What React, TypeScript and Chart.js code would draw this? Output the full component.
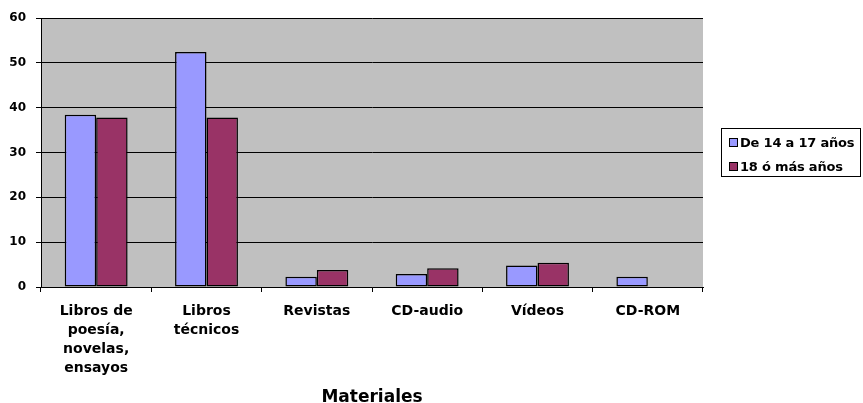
import React, { useEffect, useRef } from "react";
import { Chart, registerables } from "chart.js";

Chart.register(...registerables);

const categories: string[][] = [
  ["Libros de", "poesía,", "novelas,", "ensayos"],
  ["Libros", "técnicos"],
  ["Revistas"],
  ["CD-audio"],
  ["Vídeos"],
  ["CD-ROM"],
];
const seriesNames = ["De 14 a 17 años", "18 ó más años"];
const series14a17 = [38.4, 52.4, 2.3, 2.9, 4.8, 2.3];
const series18mas = [37.8, 37.8, 3.8, 4.2, 5.4, 0];
const seriesColors = ["#9999FF", "#993366"];
const yTicks = [0, 10, 20, 30, 40, 50, 60];
const xTitle = "Materiales";

const FONT = "'DejaVu Sans', 'Liberation Sans', Arial, sans-serif";

const bgPlugin = {
  id: "plotBg",
  beforeDraw(chart: any) {
    const { ctx, chartArea } = chart;
    if (!chartArea) return;
    ctx.save();
    ctx.fillStyle = "#C0C0C0";
    ctx.fillRect(chartArea.left, chartArea.top, chartArea.right - chartArea.left, chartArea.bottom - chartArea.top);
    ctx.restore();
  },
};

export default function App() {
  const ref = useRef<HTMLCanvasElement | null>(null);

  useEffect(() => {
    document.body.style.margin = "0";
    if (!ref.current) return;
    const chart = new Chart(ref.current, {
      type: "bar",
      data: {
        labels: categories,
        datasets: [
          {
            label: seriesNames[0],
            data: series14a17,
            backgroundColor: seriesColors[0],
            borderColor: "#000",
            borderWidth: 1.5,
            borderSkipped: false,
            categoryPercentage: 0.57,
            barPercentage: 1,
          },
          {
            label: seriesNames[1],
            data: series18mas,
            backgroundColor: seriesColors[1],
            borderColor: "#000",
            borderWidth: 1.5,
            borderSkipped: false,
            categoryPercentage: 0.57,
            barPercentage: 1,
          },
        ],
      },
      options: {
        animation: false,
        responsive: false,
        maintainAspectRatio: false,
        layout: { padding: { top: 18, right: 160, bottom: 0, left: 0 } },
        plugins: {
          legend: { display: false },
          tooltip: { enabled: false },
        },
        scales: {
          x: {
            grid: {
              display: true,
              drawOnChartArea: false,
              drawTicks: true,
              tickLength: 5,
              color: "#000",
              offset: true,
            },
            border: { display: true, color: "#000", width: 1 },
            ticks: {
              color: "#000",
              font: { family: FONT, size: 14, weight: "bold", lineHeight: 1.35 },
              padding: 10,
              maxRotation: 0,
              autoSkip: false,
            },
            title: {
              display: true,
              text: xTitle,
              color: "#000",
              font: { family: FONT, size: 17, weight: "bold", lineHeight: 1.2 },
              padding: { top: 0, bottom: -5 },
            },
            afterFit(scale: any) {
              scale.height = 116;
            },
          },
          y: {
            min: 0,
            max: 60,
            afterBuildTicks(scale: any) {
              scale.ticks = yTicks.map((v) => ({ value: v }));
            },
            grid: {
              color: "#000",
              lineWidth: 1,
              drawTicks: true,
              tickLength: 5,
            },
            border: { display: true, color: "#000", width: 1 },
            ticks: {
              color: "#000",
              font: { family: FONT, size: 12, weight: "bold" },
              padding: 10,
            },
            afterFit(scale: any) {
              scale.width = 41;
            },
          },
        },
      },
      plugins: [bgPlugin],
    } as any);
    return () => chart.destroy();
  }, []);

  const legendItem = (i: number) => (
    <div
      key={i}
      style={{ display: "flex", alignItems: "center", height: 24 }}
    >
      <span
        style={{
          display: "inline-block",
          width: 7,
          height: 7,
          border: "1px solid #000",
          background: seriesColors[i],
          marginRight: 2,
        }}
      />
      <span style={{ fontFamily: FONT, fontWeight: "bold", fontSize: 13, color: "#000", whiteSpace: "nowrap", letterSpacing: -0.2 }}>
        {seriesNames[i]}
      </span>
    </div>
  );

  return (
    <div style={{ position: "relative", width: 863, height: 403, background: "#fff" }}>
      <canvas ref={ref} width={863} height={403} style={{ position: "absolute", left: 0, top: 0 }} />
      <div
        style={{
          position: "absolute",
          left: 721,
          top: 128,
          width: 140,
          height: 49,
          border: "1px solid #000",
          boxSizing: "border-box",
          paddingLeft: 7,
          paddingTop: 1,
          overflow: "hidden",
        }}
      >
        {legendItem(0)}
        {legendItem(1)}
      </div>
    </div>
  );
}
